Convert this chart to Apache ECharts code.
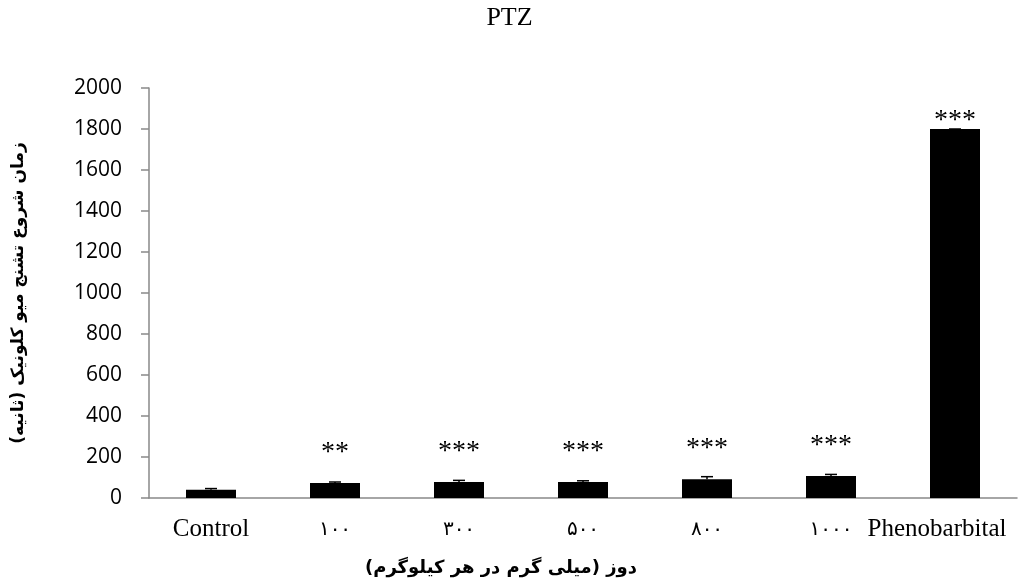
<!DOCTYPE html>
<html>
<head>
<meta charset="utf-8">
<script src="https://cdn.jsdelivr.net/npm/echarts@6/dist/echarts.min.js"></script>
<style>html,body{margin:0;padding:0;background:#fff}#c{width:1019px;height:584px}</style>
</head>
<body>
<div id="c"></div>
<script>
const categories = ['Control', '۱۰۰', '۳۰۰', '۵۰۰', '۸۰۰', '۱۰۰۰', 'Phenobarbital'];
const meanValues = [40, 73, 78, 78, 92, 107, 1800];
const errorValues = [6, 5, 8, 6, 12, 8, 0];
const significance = ['', '**', '***', '***', '***', '***', '***'];
const yTicks = [0, 200, 400, 600, 800, 1000, 1200, 1400, 1600, 1800, 2000];

const chart = echarts.init(document.getElementById('c'));
const serif = '"Liberation Serif","Times New Roman",serif';
const barData = meanValues.map((v, i) => ({
  value: v,
  label: {
    show: significance[i] !== '',
    formatter: significance[i],
    position: 'top',
    distance: i === categories.length - 1 ? -6 : 16
  }
}));
chart.setOption({
  animation: false,
  title: {
    text: 'PTZ', left: 'center', top: 0,
    textStyle: {fontFamily: serif, fontSize: 26, fontWeight: 'normal', color: '#000'}
  },
  grid: {left: 149, right: 2, top: 88, bottom: 86},
  xAxis: {
    type: 'category', data: categories,
    axisLine: {lineStyle: {color: '#898989', width: 1.5}},
    axisTick: {show: false},
    axisLabel: {
      interval: 0, margin: 19, color: '#000',
      formatter: (v, i) => /[A-Za-z]/.test(v) ? (i === categories.length - 1 ? '{p|' + v + '}' : '{l|' + v + '}') : '{d|' + v + '}',
      rich: {
        l: {fontFamily: serif, fontSize: 25, color: '#000'},
        p: {fontFamily: serif, fontSize: 25, color: '#000', padding: [0, 36, 0, 0]},
        d: {fontFamily: '"DejaVu Sans"', fontSize: 20, color: '#000', padding: [3, 0, 0, 0]}
      }
    },
    name: 'دوز (میلی گرم در هر کیلوگرم)', nameLocation: 'middle', nameGap: 61,
    nameTextStyle: {fontFamily: '"DejaVu Sans"', fontWeight: 'bold', fontSize: 18, color: '#000', padding: [0, 164, 0, 0]}
  },
  yAxis: {
    type: 'value', min: 0, max: 2000, interval: 200,
    splitLine: {show: false},
    axisLine: {show: true, lineStyle: {color: '#898989', width: 1.5}},
    axisTick: {show: true, length: 8, lineStyle: {color: '#898989', width: 1.5}},
    axisLabel: {fontFamily: '"Open Sans","Liberation Sans",sans-serif', fontSize: 21, color: '#000', margin: 27,
      formatter: v => yTicks.includes(v) ? String(v) : ''},
    name: 'زمان شروع تشنج میو کلونیک (ثانیه)', nameLocation: 'middle', nameGap: 122,
    nameTextStyle: {fontFamily: '"DejaVu Sans"', fontWeight: 'bold', fontSize: 17, color: '#000'}
  },
  series: [
    {
      type: 'bar', data: barData, barWidth: 50,
      itemStyle: {color: '#000'},
      label: {fontFamily: serif, fontSize: 28, color: '#000'}
    },
    {
      type: 'custom', z: 1,
      data: meanValues.map((v, i) => [i, v, v + errorValues[i]]),
      renderItem: (params, api) => {
        const lo = api.coord([api.value(0), api.value(1)]);
        const hi = api.coord([api.value(0), api.value(2)]);
        const w = 6;
        return {type: 'group', children: [
          {type: 'line', shape: {x1: lo[0], y1: lo[1], x2: hi[0], y2: hi[1]}, style: {stroke: '#000', lineWidth: 1.5}},
          {type: 'line', shape: {x1: hi[0] - w, y1: hi[1], x2: hi[0] + w, y2: hi[1]}, style: {stroke: '#000', lineWidth: 1.5}}
        ]};
      }
    }
  ]
});
</script>
</body>
</html>
